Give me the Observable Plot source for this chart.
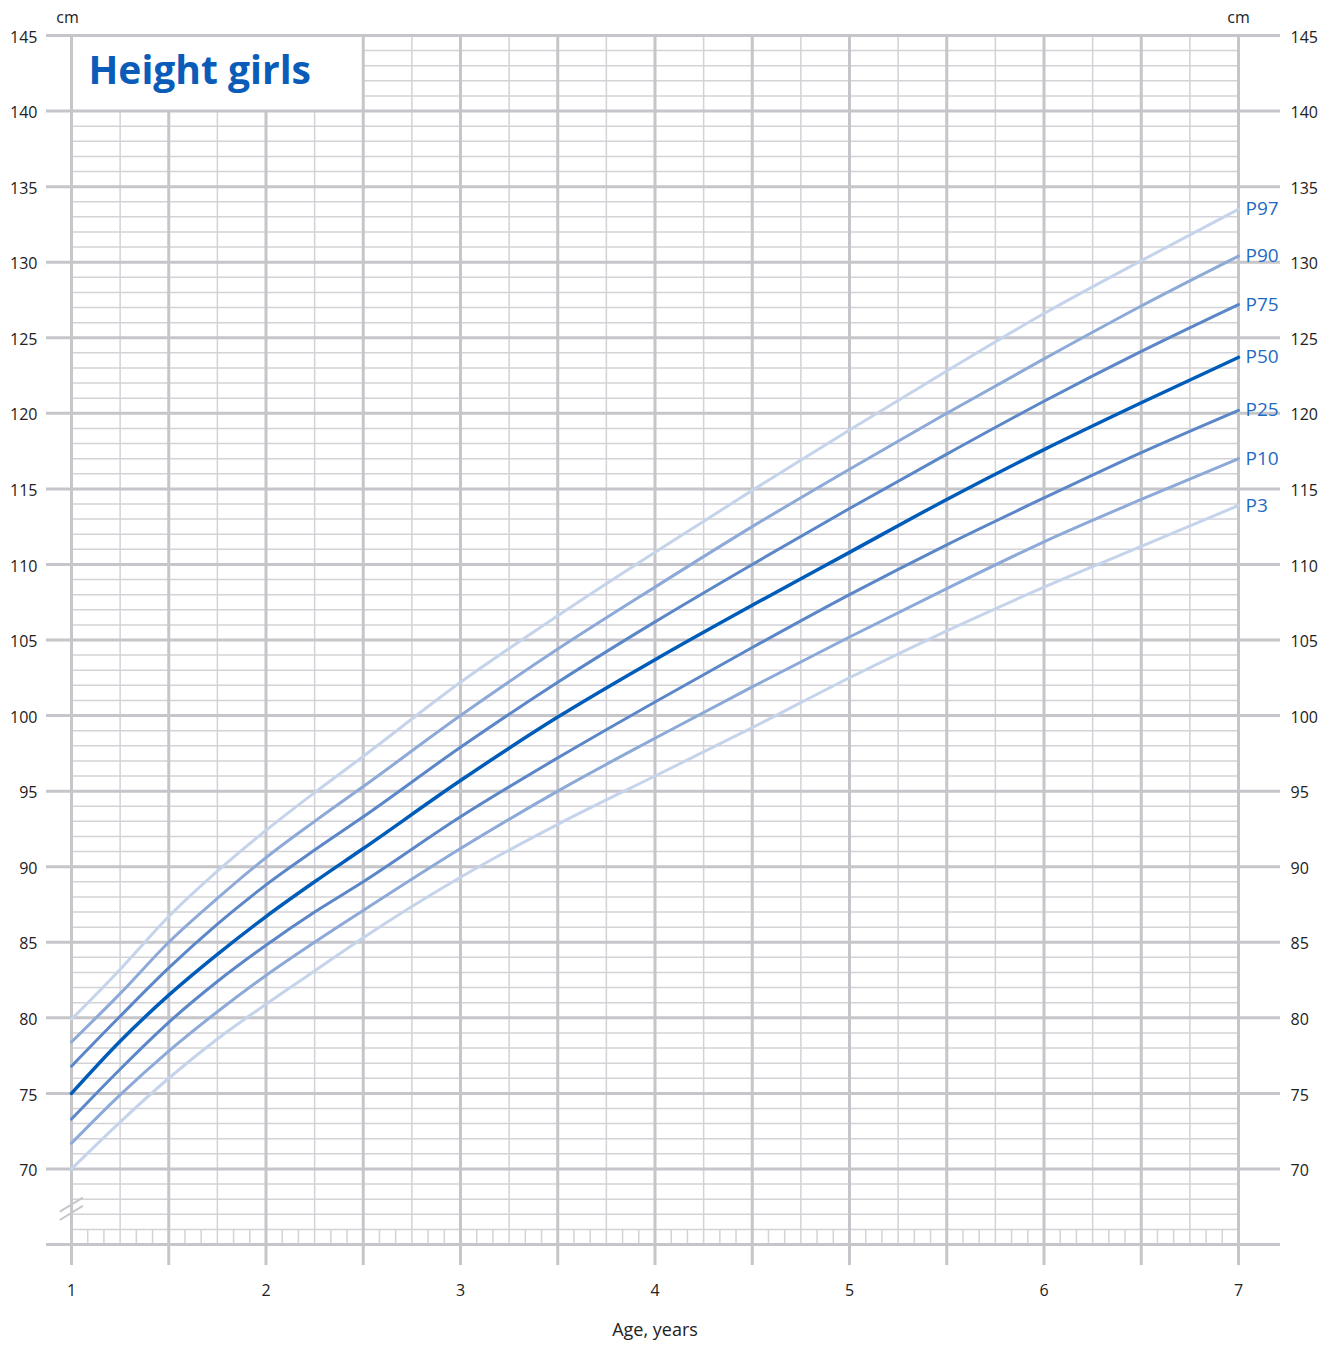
<!DOCTYPE html>
<html>
<head>
<meta charset="utf-8">
<script src="https://cdn.jsdelivr.net/npm/d3@7"></script>
<script src="https://cdn.jsdelivr.net/npm/@observablehq/plot@0.6"></script>
<style>
  html, body { margin: 0; padding: 0; background: #fff; }
  #chart svg { display: block; }
</style>
</head>
<body>
<div id="chart"></div>
<script>
// ---- data ----
const ages = [1, 1.25, 1.5, 1.75, 2, 2.25, 2.5, 3, 3.5, 4, 4.5, 5, 5.5, 6, 6.5, 7];
const p3  = [70.0, 73.1, 76.0, 78.6, 80.9, 83.1, 85.3, 89.3, 92.8, 96.0, 99.2, 102.5, 105.6, 108.5, 111.2, 113.9];
const p10 = [71.7, 74.9, 77.8, 80.4, 82.8, 85.0, 87.1, 91.2, 95.0, 98.5, 101.9, 105.2, 108.4, 111.5, 114.3, 117.0];
const p25 = [73.3, 76.6, 79.7, 82.4, 84.8, 87.0, 89.0, 93.3, 97.2, 100.9, 104.5, 108.0, 111.3, 114.4, 117.4, 120.2];
const p50 = [75.0, 78.45, 81.5, 84.2, 86.7, 89.0, 91.2, 95.7, 99.9, 103.7, 107.3, 110.8, 114.3, 117.6, 120.7, 123.7];
const p75 = [76.8, 80.1, 83.3, 86.2, 88.8, 91.1, 93.3, 97.9, 102.2, 106.2, 110.0, 113.7, 117.3, 120.8, 124.1, 127.2];
const p90 = [78.4, 81.6, 85.0, 87.9, 90.6, 93.0, 95.3, 100.0, 104.4, 108.5, 112.5, 116.3, 120.0, 123.6, 127.1, 130.4];
const p97 = [79.9, 83.2, 86.7, 89.7, 92.4, 94.9, 97.3, 102.2, 106.6, 110.8, 114.9, 118.9, 122.8, 126.6, 130.1, 133.5];
const percentiles = ["P3", "P10", "P25", "P50", "P75", "P90", "P97"];
const seriesValues = [p3, p10, p25, p50, p75, p90, p97];
const xTickLabels = [1, 2, 3, 4, 5, 6, 7];
const yTickLabels = [70, 75, 80, 85, 90, 95, 100, 105, 110, 115, 120, 125, 130, 135, 140, 145];
const title = "Height girls";
const xLabel = "Age, years";
const yUnit = "cm";

// ---- styles ----
const lineColor = {P3: "#c5d4ea", P10: "#8ca9d8", P25: "#5b87c8", P50: "#005cb9", P75: "#5b87c8", P90: "#8ca9d8", P97: "#c5d4ea"};
const lineWidth = {P3: 3, P10: 3, P25: 3, P50: 3.5, P75: 3, P90: 3, P97: 3};
const gridThick = "#c6c6ca";
const gridThin = "#d3d3d7";
const font = "'Open Sans', Lato, sans-serif";

// long table for lines
const rows = [];
percentiles.forEach((p, i) => ages.forEach((a, j) => rows.push({p, age: a, h: seriesValues[i][j]})));
const ends = percentiles.map((p, i) => ({p, age: ages[ages.length - 1], h: seriesValues[i][ages.length - 1]}));

// grid geometry (derived, not data)
const xMin = 1, xMax = 7, yMin = 65, yMax = 145;
const boxX = 2.5, boxY = 140;              // title box
const pxPerYear = 194.5, pxPerCm = 15.107;
const xLeftExt = xMin - 25 / pxPerYear;    // thick lines extend left
const xRightExt = xMax + 42 / pxPerYear;   // and right
const yBelow = yMin - 21 / pxPerCm;        // half-year lines extend below

const thinH = d3.range(66, 145).filter(v => v % 5 !== 0);
const thickH = d3.range(65, 146, 5);
const quarters = d3.range(0, 25).map(k => xMin + k * 0.25);
const halfYears = quarters.filter((v, k) => k % 2 === 0);
const oddQuarters = quarters.filter((v, k) => k % 2 === 1);
const months = d3.range(0, 73).filter(k => k % 3 !== 0).map(k => xMin + k / 12);

const breakMarks = [
  {x1: 1 - 11.7 / pxPerYear, y1: 67.17, x2: 1 + 11.3 / pxPerYear, y2: 68.10},
  {x1: 1 - 11.7 / pxPerYear, y1: 66.62, x2: 1 + 11.3 / pxPerYear, y2: 67.55}
];

const chart = Plot.plot({
  width: 1331,
  height: 1347,
  marginLeft: 71,
  marginRight: 93,
  marginTop: 35,
  marginBottom: 103,
  x: {domain: [xMin, xMax], axis: null},
  y: {domain: [yMin, yMax], axis: null},
  style: {fontFamily: font, background: "#fff", overflow: "visible"},
  marks: [
    // thin horizontal grid
    Plot.ruleY(thinH, {y: d => d, x1: d => d > boxY ? boxX : xMin, x2: xMax, stroke: gridThin, strokeWidth: 1.5}),
    // thin vertical quarter lines
    Plot.ruleX(oddQuarters, {x: d => d, y1: yMin, y2: d => d < boxX ? boxY : yMax, stroke: gridThin, strokeWidth: 1.5}),
    // monthly ticks strip
    Plot.ruleX(months, {x: d => d, y1: yMin, y2: yMin + 1, stroke: gridThin, strokeWidth: 1.5}),
    // thick vertical half-year lines
    Plot.ruleX(halfYears, {x: d => d, y1: yBelow, y2: d => (d > xMin && d < boxX) ? boxY : yMax, stroke: gridThick, strokeWidth: 3}),
    // thick horizontal lines
    Plot.ruleY(thickH, {y: d => d, x1: xLeftExt, x2: xRightExt, stroke: gridThick, strokeWidth: 3}),
    // axis break marks
    Plot.link(breakMarks, {x1: "x1", y1: "y1", x2: "x2", y2: "y2", stroke: gridThick, strokeWidth: 2}),
    // percentile curves
    Plot.line(rows, {x: "age", y: "h", z: "p", stroke: d => lineColor[d.p], strokeWidth: d => lineWidth[d.p], curve: "monotone-x"}),
    // percentile labels
    Plot.text(ends, {x: "age", y: "h", text: "p", dx: 7, textAnchor: "start", fill: "#1f6bc4", fontSize: 19}),
    // y tick labels left and right
    Plot.text(yTickLabels, {x: xMin, y: d => d, text: d => String(d), dx: -34, dy: 2, textAnchor: "end", fontSize: 16, fill: "#222"}),
    Plot.text(yTickLabels, {x: xMax, y: d => d, text: d => String(d), dx: 52, dy: 2, textAnchor: "start", fontSize: 16, fill: "#222"}),
    // unit labels
    Plot.text([yUnit], {x: xMin, y: yMax, text: d => d, dx: -4, dy: -18, fontSize: 16, fill: "#222"}),
    Plot.text([yUnit], {x: xMax, y: yMax, text: d => d, dy: -18, fontSize: 16, fill: "#222"}),
    // x tick labels
    Plot.text(xTickLabels, {x: d => d, y: yMin, text: d => String(d), dy: 46, fontSize: 16, fill: "#222"}),
    // x axis title
    Plot.text([xLabel], {x: (xMin + xMax) / 2, y: yMin, text: d => d, dy: 86, fontSize: 18, fill: "#222"}),
    // chart title
    Plot.text([title], {x: xMin, y: yMax, text: d => d, dx: 17, dy: 36, textAnchor: "start", fontSize: 39, fontWeight: "bold", fill: "#0a5cb8"})
  ]
});

document.getElementById("chart").appendChild(chart);
</script>
</body>
</html>
